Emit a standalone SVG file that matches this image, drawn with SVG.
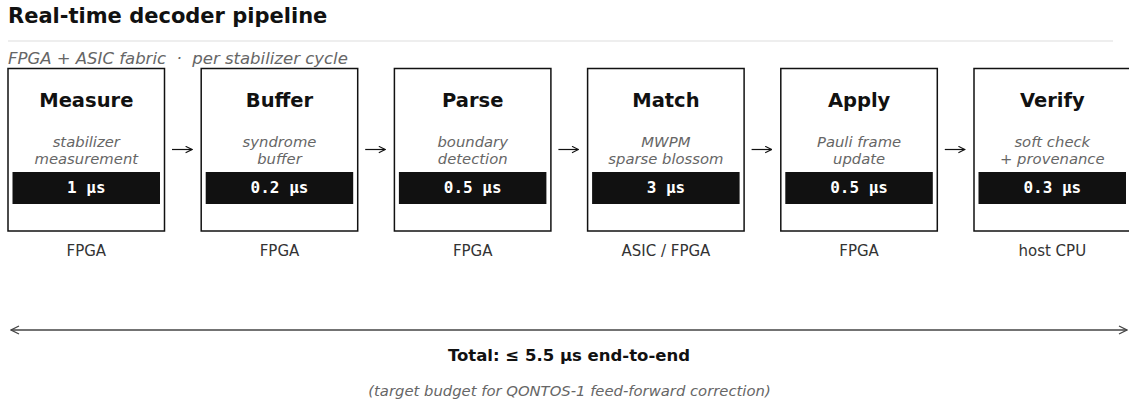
<svg xmlns="http://www.w3.org/2000/svg" width="1129" height="402" viewBox="0 0 1129 402">
<defs>
<style>
.title{font-family:"DejaVu Sans",sans-serif;font-weight:bold;font-size:21px;fill:#111}
.sub{font-family:"DejaVu Sans",sans-serif;font-style:italic;font-size:16.5px;fill:#666;white-space:pre}
.box{fill:#fff;stroke:#111;stroke-width:1.5}
.name{font-family:"DejaVu Sans",sans-serif;font-weight:bold;font-size:19.5px;fill:#111;text-anchor:middle}
.desc{font-family:"DejaVu Sans",sans-serif;font-style:italic;font-size:14.8px;fill:#666;text-anchor:middle}
.bar{fill:#111}
.time{font-family:"DejaVu Sans Mono",monospace;font-weight:bold;font-size:16px;fill:#fff;text-anchor:middle}
.hw{font-family:"DejaVu Sans",sans-serif;font-size:15px;fill:#333;text-anchor:middle}
.conn{stroke:#111;stroke-width:1.2;fill:none}
.total{font-family:"DejaVu Sans",sans-serif;font-weight:bold;font-size:16.5px;fill:#111;text-anchor:middle}
.note{font-family:"DejaVu Sans",sans-serif;font-style:italic;font-size:14.8px;fill:#666;text-anchor:middle}
</style>
<marker id="ah" viewBox="0 0 10 10" refX="9" refY="5" markerWidth="8" markerHeight="8" markerUnits="userSpaceOnUse" orient="auto-start-reverse">
<path d="M1,1 L9,5 L1,9" fill="none" stroke="#111" stroke-width="1.4"/>
</marker>
<marker id="ah2" viewBox="0 0 10 10" refX="9" refY="5" markerWidth="10" markerHeight="10" markerUnits="userSpaceOnUse" orient="auto-start-reverse">
<path d="M1,1 L9,5 L1,9" fill="none" stroke="#444" stroke-width="1.3"/>
</marker>
</defs>
<rect width="1129" height="402" fill="#fff"/>
<text class="title" x="8" y="23">Real-time decoder pipeline</text>
<line x1="8" y1="41" x2="1113" y2="41" stroke="#ddd" stroke-width="1.2"/>
<text class="sub" x="8" y="64" xml:space="preserve">FPGA + ASIC fabric  ·  per stabilizer cycle</text>

<g id="measure">
<rect class="box" x="8" y="68.5" width="156.5" height="162.5"/>
<text class="name" x="86.3" y="107">Measure</text>
<text class="desc" x="86.3" y="147">stabilizer</text>
<text class="desc" x="86.3" y="164">measurement</text>
<rect class="bar" x="12.5" y="172" width="147.5" height="32"/>
<text class="time" x="86.3" y="193">1 µs</text>
<text class="hw" x="86.3" y="256">FPGA</text>
</g>
<g id="buffer">
<rect class="box" x="201.2" y="68.5" width="156.5" height="162.5"/>
<text class="name" x="279.5" y="107">Buffer</text>
<text class="desc" x="279.5" y="147">syndrome</text>
<text class="desc" x="279.5" y="164">buffer</text>
<rect class="bar" x="205.7" y="172" width="147.5" height="32"/>
<text class="time" x="279.5" y="193">0.2 µs</text>
<text class="hw" x="279.5" y="256">FPGA</text>
</g>
<g id="parse">
<rect class="box" x="394.4" y="68.5" width="156.5" height="162.5"/>
<text class="name" x="472.7" y="107">Parse</text>
<text class="desc" x="472.7" y="147">boundary</text>
<text class="desc" x="472.7" y="164">detection</text>
<rect class="bar" x="398.9" y="172" width="147.5" height="32"/>
<text class="time" x="472.7" y="193">0.5 µs</text>
<text class="hw" x="472.7" y="256">FPGA</text>
</g>
<g id="match">
<rect class="box" x="587.6" y="68.5" width="156.5" height="162.5"/>
<text class="name" x="665.9" y="107">Match</text>
<text class="desc" x="665.9" y="147">MWPM</text>
<text class="desc" x="665.9" y="164">sparse blossom</text>
<rect class="bar" x="592.1" y="172" width="147.5" height="32"/>
<text class="time" x="665.9" y="193">3 µs</text>
<text class="hw" x="665.9" y="256">ASIC / FPGA</text>
</g>
<g id="apply">
<rect class="box" x="780.8" y="68.5" width="156.5" height="162.5"/>
<text class="name" x="859.1" y="107">Apply</text>
<text class="desc" x="859.1" y="147">Pauli frame</text>
<text class="desc" x="859.1" y="164">update</text>
<rect class="bar" x="785.3" y="172" width="147.5" height="32"/>
<text class="time" x="859.1" y="193">0.5 µs</text>
<text class="hw" x="859.1" y="256">FPGA</text>
</g>
<g id="verify">
<rect class="box" x="974" y="68.5" width="156.5" height="162.5"/>
<text class="name" x="1052.3" y="107">Verify</text>
<text class="desc" x="1052.3" y="147">soft check</text>
<text class="desc" x="1052.3" y="164">+ provenance</text>
<rect class="bar" x="978.5" y="172" width="147.5" height="32"/>
<text class="time" x="1052.3" y="193">0.3 µs</text>
<text class="hw" x="1052.3" y="256">host CPU</text>
</g>

<g id="connectors">
<line class="conn" x1="172" y1="149.5" x2="192" y2="149.5" marker-end="url(#ah)"/>
<line class="conn" x1="365.2" y1="149.5" x2="385.2" y2="149.5" marker-end="url(#ah)"/>
<line class="conn" x1="558.4" y1="149.5" x2="578.4" y2="149.5" marker-end="url(#ah)"/>
<line class="conn" x1="751.6" y1="149.5" x2="771.6" y2="149.5" marker-end="url(#ah)"/>
<line class="conn" x1="944.8" y1="149.5" x2="964.8" y2="149.5" marker-end="url(#ah)"/>
<line x1="11" y1="330" x2="1127" y2="330" stroke="#444" stroke-width="1.3" marker-start="url(#ah2)" marker-end="url(#ah2)"/>
</g>
<text class="total" x="569" y="361">Total: ≤ 5.5 µs end-to-end</text>
<text class="note" x="569.5" y="396">(target budget for QONTOS-1 feed-forward correction)</text>
</svg>
